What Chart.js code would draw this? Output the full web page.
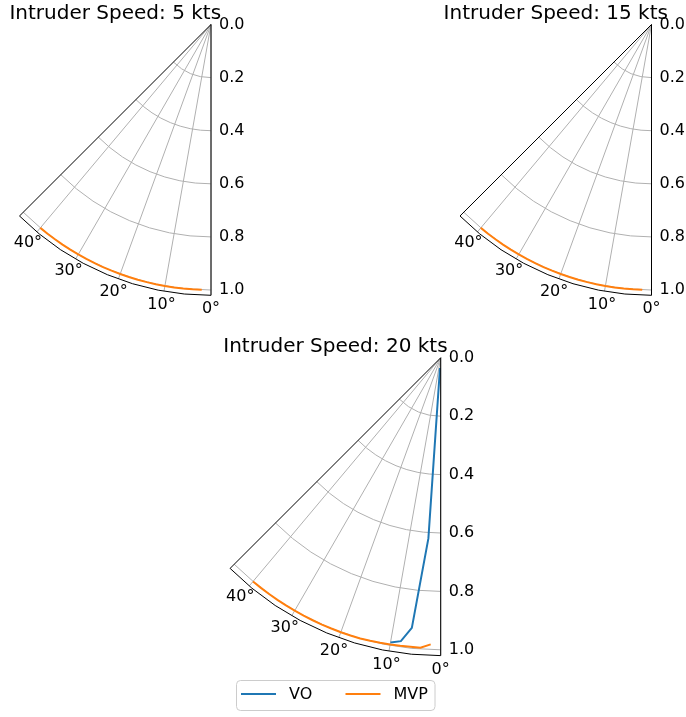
<!DOCTYPE html>
<html>
<head>
<meta charset="utf-8">
<script src="https://cdn.jsdelivr.net/npm/chart.js@4.4.0/dist/chart.umd.min.js"></script>
<style>
  html, body { margin: 0; padding: 0; background: #fff; }
  #wrap { position: relative; width: 686px; height: 717px; }
  #wrap canvas { position: absolute; left: 0; top: 0; }
</style>
</head>
<body>
<div id="wrap">
  <canvas id="speed5" width="686" height="717"></canvas>
  <canvas id="speed15" width="686" height="717"></canvas>
  <canvas id="speed20" width="686" height="717"></canvas>
</div>
<script>
// angles in degrees from the 0° spoke, radius normalised (1.0 = full manoeuvre)
const mvpTheta = [40, 38, 36, 34, 32, 30, 28, 26, 24, 22, 20, 18, 16, 14, 12, 10, 8, 6, 4, 2];
const mvpR5 = [1.0, 1.0, 1.0, 1.0, 1.0, 1.0, 1.0, 1.0, 1.0, 1.0, 1.0, 1.0, 1.0, 1.0, 1.0, 1.0, 1.0, 1.0, 1.0, 1.0];
const mvpR15 = [1.0, 1.0, 1.0, 1.0, 1.0, 1.0, 1.0, 1.0, 1.0, 1.0, 1.0, 1.0, 1.0, 1.0, 1.0, 1.0, 1.0, 1.0, 1.0, 1.0];
const mvpR20 = [1.0, 1.0, 1.0, 1.0, 1.0, 1.0, 1.0, 1.0, 1.0, 1.0, 1.0, 1.0, 1.0, 0.999, 0.998, 0.997, 0.996, 0.995, 0.995, 0.982];

const voTheta20 = [4, 3.9, 6.1, 8, 10];
const voR20 = [0.035, 0.62, 0.93, 0.98, 0.99];

const radialTicks = [0, 0.2, 0.4, 0.6, 0.8, 1.0];
const thetaTicks = [0, 10, 20, 30, 40];
const thetaMax = 45;
const rMax = 1.02;

const VO_COLOR = '#1f77b4';
const MVP_COLOR = '#ff7f0e';
const FONT = '"DejaVu Sans", sans-serif';

const rad = (deg) => deg * Math.PI / 180;

// polar (theta, r) -> cartesian, 0° pointing down, angles growing to the left
const toXY = (thetas, rs) => thetas.map((t, i) => ({
  x: -rs[i] * Math.sin(rad(t)),
  y: -rs[i] * Math.cos(rad(t))
}));

const panels = [
  { id: 'speed5', speed: 5, cx: 211, cy: 24.5, unit: 265.5, mvp: mvpR5 },
  { id: 'speed15', speed: 15, cx: 651.5, cy: 24.5, unit: 265.5, mvp: mvpR15 },
  { id: 'speed20', speed: 20, cx: 440.7, cy: 357.8, unit: 292, mvp: mvpR20, vo: [voTheta20, voR20], legend: true }
];

const polarGrid = {
  id: 'polarGrid',
  beforeDatasetsDraw(chart) {
    const { ctx } = chart;
    const g = geom(chart);
    ctx.save();
    ctx.strokeStyle = '#b0b0b0';
    ctx.lineWidth = 1;
    radialTicks.forEach((r) => {
      if (r === 0) return;
      ctx.beginPath();
      ctx.arc(g.cx, g.cy, g.rpx(r), Math.PI / 2, Math.PI / 2 + rad(thetaMax));
      ctx.stroke();
    });
    thetaTicks.forEach((t) => {
      const p = g.pt(t, rMax);
      ctx.beginPath();
      ctx.moveTo(g.cx, g.cy);
      ctx.lineTo(p.x, p.y);
      ctx.stroke();
    });
    ctx.restore();
  },
  afterDatasetsDraw(chart, args, opts) {
    const { ctx } = chart;
    const g = geom(chart);
    ctx.save();

    // wedge outline
    ctx.strokeStyle = '#000';
    ctx.lineWidth = 1;
    ctx.beginPath();
    ctx.moveTo(g.cx, g.cy);
    ctx.arc(g.cx, g.cy, g.rpx(rMax), Math.PI / 2, Math.PI / 2 + rad(thetaMax));
    ctx.closePath();
    ctx.stroke();

    ctx.fillStyle = '#000';
    ctx.font = '16px ' + FONT;
    ctx.textAlign = 'left';
    ctx.textBaseline = 'middle';
    radialTicks.forEach((r) => {
      ctx.fillText(r.toFixed(1), g.cx + 8, g.cy + g.rpx(r));
    });

    ctx.textAlign = 'center';
    const labelR = g.rpx(rMax) + 14;
    thetaTicks.forEach((t) => {
      const x = g.cx - labelR * Math.sin(rad(t));
      const y = g.cy + labelR * Math.cos(rad(t));
      ctx.fillText(t + '°', x, y);
    });

    // title centred over the wedge
    const left = g.cx - g.rpx(rMax) * Math.sin(rad(thetaMax));
    ctx.font = '20px ' + FONT;
    ctx.textBaseline = 'alphabetic';
    ctx.fillText(opts.title, (left + g.cx) / 2, g.cy - 6);
    ctx.restore();
  },
  afterDraw(chart, args, opts) {
    if (!opts.legend) return;
    const { ctx } = chart;
    const items = chart.data.datasets.slice().sort((a, b) => b.order - a.order);
    ctx.save();
    ctx.fillStyle = 'rgba(255,255,255,0.8)';
    ctx.strokeStyle = '#cccccc';
    ctx.lineWidth = 1;
    ctx.beginPath();
    ctx.roundRect(236.5, 680.5, 198.5, 30, 4);
    ctx.fill();
    ctx.stroke();
    ctx.font = '16px ' + FONT;
    ctx.textBaseline = 'middle';
    ctx.textAlign = 'left';
    let x = 241;
    items.forEach((ds) => {
      ctx.strokeStyle = ds.borderColor;
      ctx.lineWidth = 2;
      ctx.beginPath();
      ctx.moveTo(x, 694);
      ctx.lineTo(x + 35, 694);
      ctx.stroke();
      ctx.fillStyle = '#000';
      ctx.fillText(ds.label, x + 48, 695);
      x += 104.5;
    });
    ctx.restore();
  }
};

function geom(chart) {
  const xs = chart.scales.x;
  const ys = chart.scales.y;
  const cx = xs.getPixelForValue(0);
  const cy = ys.getPixelForValue(0);
  return {
    cx,
    cy,
    rpx: (r) => ys.getPixelForValue(-r) - cy,
    pt: (t, r) => ({
      x: xs.getPixelForValue(-r * Math.sin(rad(t))),
      y: ys.getPixelForValue(-r * Math.cos(rad(t)))
    })
  };
}

const W = 686;
const H = 717;

panels.forEach((p) => {
  const datasets = [];
  if (p.vo) {
    datasets.push({
      label: 'VO',
      data: toXY(p.vo[0], p.vo[1]),
      borderColor: VO_COLOR,
      order: 1
    });
  }
  datasets.push({
    label: 'MVP',
    data: toXY(mvpTheta, p.mvp),
    borderColor: MVP_COLOR,
    order: 0
  });
  datasets.forEach((ds) => {
    ds.showLine = true;
    ds.pointRadius = 0;
    ds.borderWidth = 2;
    ds.fill = false;
  });

  const halfW = rMax * Math.sin(rad(thetaMax)) * p.unit;
  new Chart(document.getElementById(p.id), {
    type: 'scatter',
    data: { datasets },
    options: {
      responsive: false,
      animation: false,
      events: [],
      layout: {
        padding: {
          left: p.cx - halfW,
          right: W - p.cx,
          top: p.cy,
          bottom: H - p.cy - rMax * p.unit
        }
      },
      scales: {
        x: { type: 'linear', display: false, min: -rMax * Math.sin(rad(thetaMax)), max: 0 },
        y: { type: 'linear', display: false, min: -rMax, max: 0 }
      },
      plugins: {
        legend: { display: false },
        tooltip: { enabled: false },
        polarGrid: { title: 'Intruder Speed: ' + p.speed + ' kts', legend: !!p.legend }
      }
    },
    plugins: [polarGrid]
  });
});
</script>
</body>
</html>
